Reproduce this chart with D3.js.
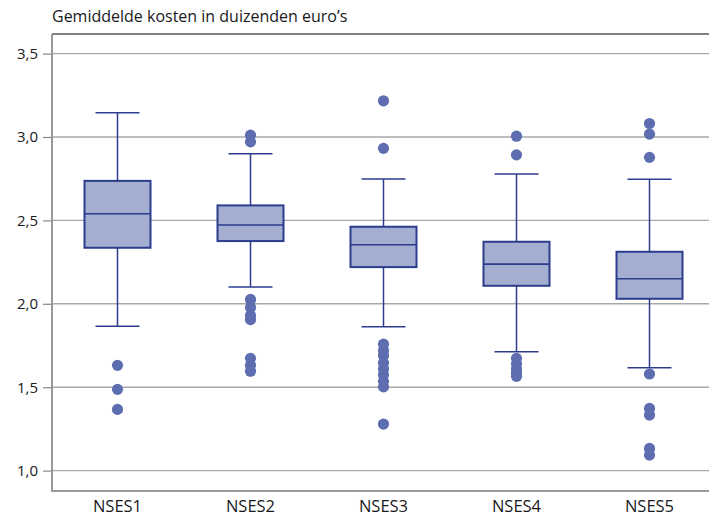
<!DOCTYPE html>
<html><head><meta charset="utf-8">
<script src="https://cdn.jsdelivr.net/npm/d3@7"></script>
<style>
body{margin:0;background:#fff;}
text{font-family:"Open Sans","Noto Sans",sans-serif;fill:#1a1a1a;}
</style></head>
<body>
<svg id="chart" width="709" height="517"></svg>
<script>
const categories = ["NSES1","NSES2","NSES3","NSES4","NSES5"];
const whiskerLow  = [1.866, 2.10, 1.862, 1.712, 1.616];
const q1          = [2.336, 2.376, 2.22, 2.108, 2.03];
const median      = [2.54, 2.472, 2.354, 2.238, 2.15];
const q3          = [2.737, 2.59, 2.462, 2.372, 2.312];
const whiskerHigh = [3.145, 2.899, 2.748, 2.778, 2.746];
const outliers = [
  [1.631, 1.487, 1.367],
  [3.011, 2.971, 2.026, 1.978, 1.93, 1.905, 1.673, 1.632, 1.596],
  [3.217, 2.932, 1.758, 1.72, 1.69, 1.645, 1.61, 1.575, 1.535, 1.502, 1.279],
  [3.005, 2.893, 1.673, 1.64, 1.61, 1.585, 1.565],
  [3.081, 3.017, 2.878, 1.579, 1.373, 1.333, 1.133, 1.093]
];
const yTicks = [1.0, 1.5, 2.0, 2.5, 3.0, 3.5];
const title = "Gemiddelde kosten in duizenden euro’s";

const svg = d3.select("#chart");
const mLeft = 52, mRight = 709, mTop = 34, mBottom = 491;
const y = d3.scaleLinear().domain([1, 3.5]).range([470.6, 53.6]);
const x = d3.scaleBand().domain(categories).range([51, 716]).padding(0);

// title
svg.append("text").attr("x", 52).attr("y", 22).attr("font-size", 16).text(title);

// gridlines
svg.append("g").selectAll("line").data(yTicks).join("line")
  .attr("x1", mLeft).attr("x2", mRight)
  .attr("y1", d => y(d)).attr("y2", d => y(d))
  .attr("stroke", "#a8a8a8").attr("stroke-width", 1.4);

// frame top and bottom
svg.append("line").attr("x1", mLeft).attr("x2", mRight).attr("y1", mTop).attr("y2", mTop)
  .attr("stroke", "#808080").attr("stroke-width", 2);
svg.append("line").attr("x1", mLeft - 1).attr("x2", mRight).attr("y1", mBottom).attr("y2", mBottom)
  .attr("stroke", "#999").attr("stroke-width", 2);

// y axis
const yAxis = d3.axisLeft(y).tickValues(yTicks).tickSize(9).tickPadding(5)
  .tickFormat(d => d3.format(".1f")(d).replace(".", ","));
const gy = svg.append("g").attr("transform", `translate(${mLeft},0)`).call(yAxis);
gy.select(".domain").attr("d", `M0,${mTop}V${mBottom}`).attr("stroke", "#999").attr("stroke-width", 2);
gy.selectAll(".tick line").attr("stroke", "#888").attr("stroke-width", 1.2);
gy.selectAll(".tick text").attr("font-size", 15).attr("font-family", "'Open Sans','Noto Sans',sans-serif").attr("fill", "#1a1a1a");

// x labels
svg.append("g").selectAll("text").data(categories).join("text")
  .attr("x", d => x(d) + x.bandwidth() / 2).attr("y", 512)
  .attr("text-anchor", "middle").attr("font-size", 16.5).text(d => d);

const data = categories.map((c, i) => ({c, lo: whiskerLow[i], q1: q1[i], med: median[i], q3: q3[i], hi: whiskerHigh[i], out: outliers[i]}));
const stroke = "#2c3d8e", fill = "#a3aed1", dotFill = "#5d6db0";
const boxW = 66, capW = 44;

const g = svg.append("g").selectAll("g").data(data).join("g")
  .attr("transform", d => `translate(${x(d.c) + x.bandwidth() / 2},0)`);

g.append("line").attr("x1", 0).attr("x2", 0).attr("y1", d => y(d.hi)).attr("y2", d => y(d.lo))
  .attr("stroke", stroke).attr("stroke-width", 1.5);
g.append("line").attr("x1", -capW / 2).attr("x2", capW / 2).attr("y1", d => y(d.hi)).attr("y2", d => y(d.hi))
  .attr("stroke", stroke).attr("stroke-width", 1.5);
g.append("line").attr("x1", -capW / 2).attr("x2", capW / 2).attr("y1", d => y(d.lo)).attr("y2", d => y(d.lo))
  .attr("stroke", stroke).attr("stroke-width", 1.5);
g.append("rect").attr("x", -boxW / 2).attr("width", boxW)
  .attr("y", d => y(d.q3)).attr("height", d => y(d.q1) - y(d.q3))
  .attr("fill", fill).attr("stroke", stroke).attr("stroke-width", 2);
g.append("line").attr("x1", -boxW / 2).attr("x2", boxW / 2).attr("y1", d => y(d.med)).attr("y2", d => y(d.med))
  .attr("stroke", stroke).attr("stroke-width", 1.6);
g.selectAll("circle").data(d => d.out).join("circle")
  .attr("cx", 0).attr("cy", d => y(d)).attr("r", 5.6).attr("fill", dotFill);
</script>
</body></html>
